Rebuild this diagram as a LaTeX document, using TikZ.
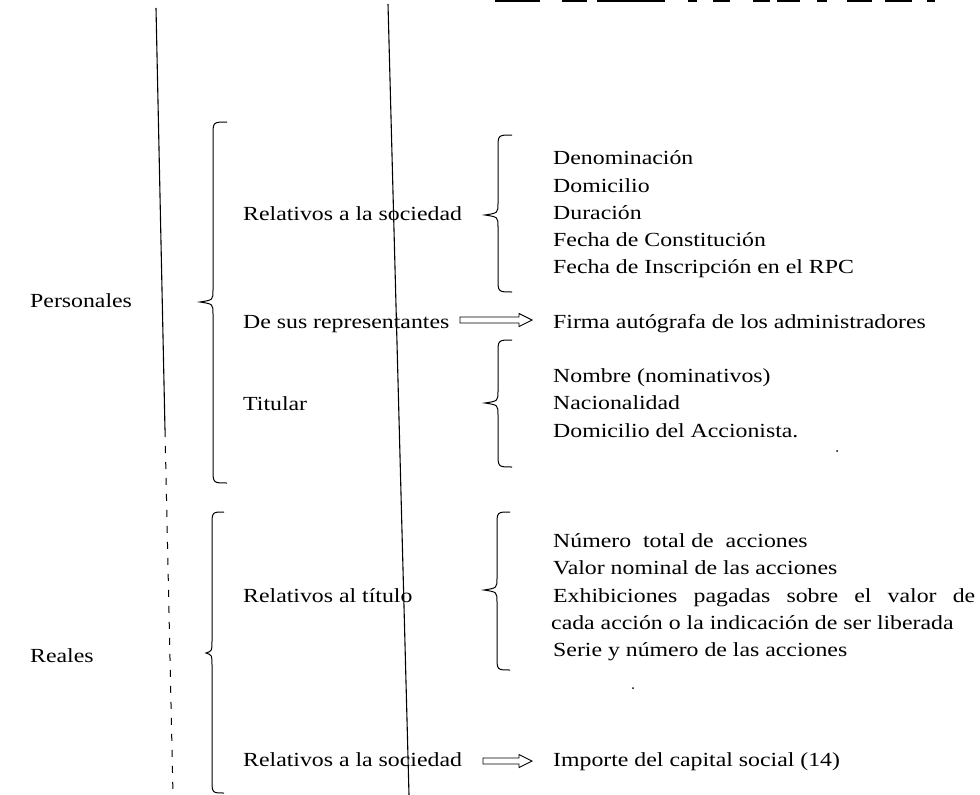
\documentclass[tikz,border=0pt]{standalone}
\usepackage{fontspec}
\setmainfont{Liberation Serif}[FakeStretch=1.19]
\tikzset{
  lbl/.style={anchor=base west, inner sep=0pt, font=\fontsize{20}{24}\selectfont},
  rule/.style={line width=1.1pt, black},
  brc/.style={line width=1pt, black},
  hollowarrow/.style={line width=0.9pt, black, line join=miter},
  speck/.style={fill=black, inner sep=0pt, minimum size=2pt, circle},
  cutbar/.style={fill=black}
}
\begin{document}
\begin{tikzpicture}[x=1pt,y=-1pt]
\useasboundingbox (0,0) rectangle (980,795);
% cut-off line at top
\foreach \xa/\xb in {495/540,562/587,597/665,688/697,713/730,753/770,777/800,817/827,847/872,885/912,927/935}
  \fill[cutbar] (\xa,0) rectangle (\xb,1.6);
% vertical rules
\coordinate (a1) at (156,8);
\coordinate (a2) at (165,430);
\coordinate (a3) at (173,795);
\draw[rule] (a1) -- (a2);
\draw[rule, line width=1pt, dash pattern=on 7pt off 9pt] (a2) -- (a3);
\coordinate (b1) at (388,4);
\coordinate (b2) at (409,795);
\draw[rule] (b1) -- (b2);
% left labels
\node[lbl] (pers) at (30,307) {Personales};
\node[lbl] (real) at (30,662) {Reales};
% middle labels
\node[lbl] (rs1) at (243,220) {Relativos a la sociedad};
\node[lbl] (rep) at (243,328) {De sus representantes};
\node[lbl] (tit) at (243,410) {Titular};
\node[lbl] (rt) at (243,602) {Relativos al título};
\node[lbl] (rs2) at (243,766) {Relativos a la sociedad};
% right labels
\node[lbl] (d1) at (553,164) {Denominación};
\node[lbl] (d2) at (553,192) {Domicilio};
\node[lbl] (d3) at (553,219) {Duración};
\node[lbl] (d4) at (553,246) {Fecha de Constitución};
\node[lbl] (d5) at (553,273) {Fecha de Inscripción en el RPC};
\node[lbl] (firma) at (553,328) {Firma autógrafa de los administradores};
\node[lbl] (t1) at (553,382) {Nombre (nominativos)};
\node[lbl] (t2) at (553,409) {Nacionalidad};
\node[lbl] (t3) at (553,437) {Domicilio del Accionista.};
\node[lbl] (r1) at (553,547) {Número\ \ total de\ \ acciones};
\node[lbl] (r2) at (553,574) {Valor nominal de las acciones};
\node[lbl] (r3) at (553,602) {\makebox[422pt][s]{Exhibiciones pagadas sobre el valor de}};
\node[lbl] (r4) at (551,629) {cada acción o la indicación de ser liberada};
\node[lbl] (r5) at (553,656) {Serie y número de las acciones};
\node[lbl] (imp) at (553,766) {Importe del capital social (14)};
% hollow double arrows: \harrow{xstart}{xend}{y}
\def\harrow#1#2#3{%
  \draw[hollowarrow] (#1,#3-3) -- (#2-13,#3-3) -- (#2-13,#3-6.5) -- (#2,#3)
    -- (#2-13,#3+6.5) -- (#2-13,#3+3) -- (#1,#3+3) -- cycle;}
\harrow{460}{532}{320}
\harrow{483}{532}{761}
% braces: \mybrace{xend}{xvert}{xtip}{ytop}{ymid}{ybot}
\def\mybrace#1#2#3#4#5#6{%
  \draw[brc] (#1,#4) .. controls (#2,#4) .. (#2,#4+14) -- (#2,#5-12)
    .. controls (#2,#5-2) .. (#3,#5) .. controls (#2,#5+2) .. (#2,#5+12)
    -- (#2,#6-14) .. controls (#2,#6) .. (#1,#6);}
\mybrace{227}{213}{200}{122}{302}{483}
\mybrace{224}{212}{206}{512}{653}{793}
\mybrace{512}{498}{485}{135}{215}{292}
\mybrace{512}{498}{485}{340}{403}{467}
\mybrace{510}{497}{484}{512}{590}{670}
% specks
\node[speck] (s1) at (837,451) {};
\node[speck] (s2) at (633,688) {};
\end{tikzpicture}
\end{document}
